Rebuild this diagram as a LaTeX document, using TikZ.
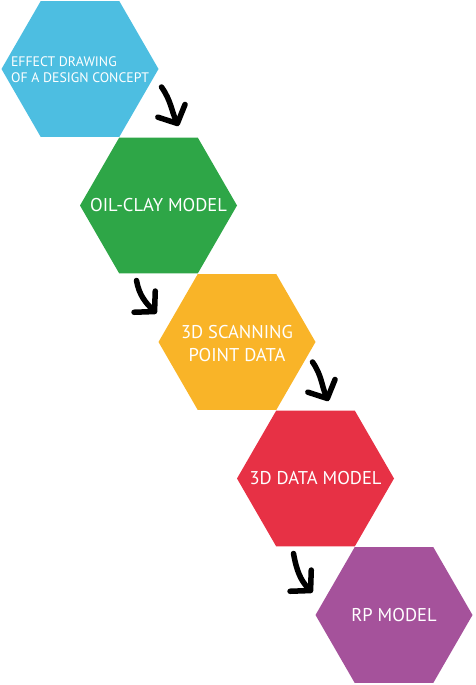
\documentclass[tikz,border=0pt]{standalone}
\usepackage{fontspec}
\setmainfont{PT Sans}
\usetikzlibrary{shapes.geometric, arrows.meta, positioning}

\definecolor{hexblue}{RGB}{77,190,225}
\definecolor{hexgreen}{RGB}{46,166,71}
\definecolor{hexyellow}{RGB}{249,180,40}
\definecolor{hexred}{RGB}{231,49,69}
\definecolor{hexpurple}{RGB}{165,82,155}

\begin{document}
\begin{tikzpicture}[
  x=1pt, y=1pt,
  node distance=136.5pt and 78.5pt,
  on grid,
  hexa/.style={
    regular polygon,
    regular polygon sides=6,
    minimum size=157pt,
    inner sep=0pt,
    outer sep=0pt,
    draw=none
  },
  hextext/.style={
    text=white,
    font=\fontsize{18.5}{23}\selectfont,
    align=center,
    inner sep=0pt
  },
  arrow/.style={
    -{Straight Barb[length=14pt, width=30pt, round]},
    line width=5.5pt,
    line cap=round,
    black
  }
]
\useasboundingbox (0,0) rectangle (475,-685);

% Nodes
\node[hexa, fill=hexblue,
  label={[hextext, font=\fontsize{13.8}{16}\selectfont, align=left, yshift=-1pt]center:EFFECT DRAWING\\OF A DESIGN CONCEPT}]
  (effect) at (80,-69) {};
\node[hexa, fill=hexgreen, below right=of effect,
  label={[hextext]center:OIL-CLAY MODEL}] (clay) {};
\node[hexa, fill=hexyellow, below right=of clay,
  label={[hextext, yshift=-2pt]center:3D SCANNING\\POINT DATA}] (scan) {};
\node[hexa, fill=hexred, below right=of scan,
  label={[hextext]center:3D DATA MODEL}] (datamodel) {};
\node[hexa, fill=hexpurple, below right=of datamodel,
  label={[hextext]center:RP MODEL}] (rp) {};

% Arrow ends
\coordinate (s1) at ([shift={(3,-18)}]effect.east);
\coordinate (t1) at ([shift={(20,-57)}]effect.east);
\coordinate (s2) at ([shift={(-22,-7)}]clay.south);
\coordinate (t2) at ([shift={(-2,-40)}]clay.south);
\coordinate (s3) at ([shift={(-3,-20)}]scan.east);
\coordinate (t3) at ([shift={(13,-59)}]scan.east);
\coordinate (s4) at ([shift={(-22,-7)}]datamodel.south);
\coordinate (t4) at ([shift={(-3,-46)}]datamodel.south);

% Arrows
\draw[arrow] (s1) to[out=-55, in=115] (t1);
\draw[arrow] (s2) to[out=-80, in=135] (t2);
\draw[arrow] (s3) to[out=-55, in=115] (t3);
\draw[arrow] (s4) to[out=-80, in=135] (t4);

\end{tikzpicture}
\end{document}
